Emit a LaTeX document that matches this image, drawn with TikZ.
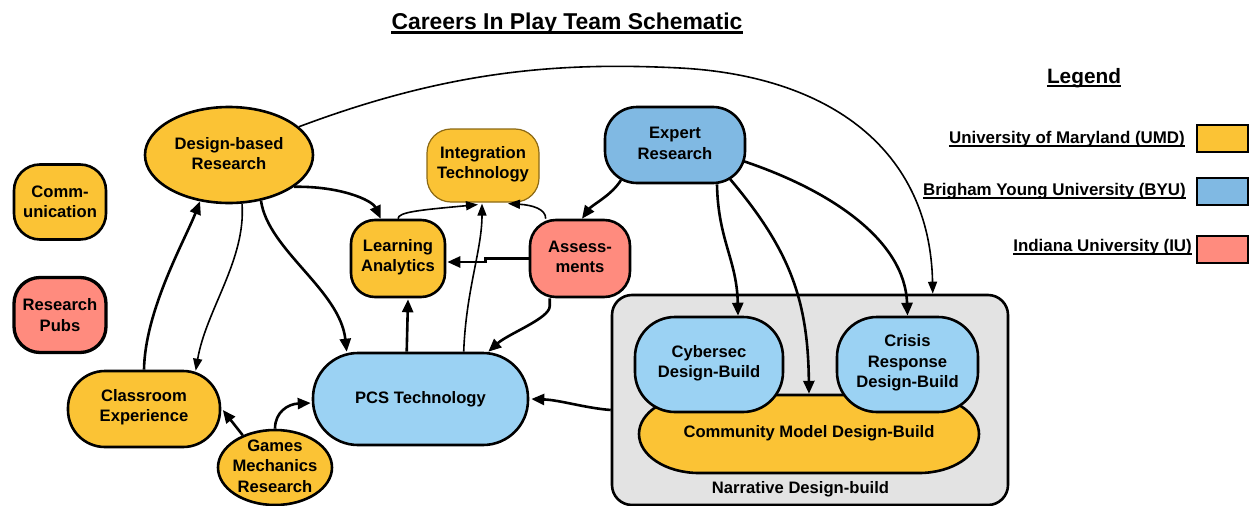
\documentclass[tikz,border=0pt]{standalone}
\usepackage{fontspec}
\setmainfont{Liberation Sans}
\usetikzlibrary{arrows.meta,shapes.geometric,calc}

\definecolor{umd}{RGB}{251,195,53}
\definecolor{byu}{RGB}{128,185,227}
\definecolor{byulight}{RGB}{155,210,243}
\definecolor{iu}{RGB}{255,139,126}
\definecolor{panel}{RGB}{227,227,227}
\definecolor{olive}{RGB}{140,105,20}

\newcommand{\cipfont}{\bfseries\fontsize{16.6}{20.3}\selectfont}
\newcommand{\keyfont}{\bfseries\fontsize{16.9}{20.3}\selectfont}

\begin{document}
\begin{tikzpicture}[x=1pt,y=-1pt,
  every node/.style={inner sep=0pt, align=center, font=\cipfont},
  unit/.style={draw, line width=2.6pt},
  umdbox/.style={unit, fill=umd},
  byubox/.style={unit, fill=byu},
  lightbox/.style={unit, fill=byulight},
  iubox/.style={unit, fill=iu},
  conn/.style={line width=2.6pt, -{Triangle[length=13pt,width=11pt]}},
  thinconn/.style={line width=1.6pt, -{Triangle[length=12pt,width=9pt]}},
  keybox/.style={draw, line width=2pt, minimum width=51, minimum height=27},
  uline/.style={line width=1.8pt}]

\useasboundingbox (0,0) rectangle (1251,506);

% heading
\node[font=\bfseries\fontsize{22.9}{26}\selectfont, anchor=base] (title) at (567,29) {Careers In Play Team Schematic};
\draw[line width=2.2pt] ($(title.base west)+(0,3.5)$) -- ($(title.base east)+(0,3.5)$);

% legend
\node[font=\bfseries\fontsize{20.8}{24}\selectfont, anchor=base] (legend) at (1084,83) {Legend};
\draw[line width=2pt] ($(legend.base west)+(0,3)$) -- ($(legend.base east)+(0,3)$);

\node[font=\keyfont, anchor=base east] (k-umd) at (1185,143) {University of Maryland (UMD)};
\node[font=\keyfont, anchor=base east] (k-byu) at (1186,195) {Brigham Young University (BYU)};
\node[font=\keyfont, anchor=base east] (k-iu) at (1192,251.5) {Indiana University (IU)};
\foreach \k in {k-umd,k-byu,k-iu}
  \draw[uline] ($(\k.base west)+(0,2.6)$) -- ($(\k.base east)+(0,2.6)$);

\node[keybox, fill=umd] (s-umd) at (1222.5,138.5) {};
\node[keybox, fill=byu] (s-byu) at (1222.5,191.5) {};
\node[keybox, fill=iu] (s-iu) at (1222.5,249) {};

% stand-alone units
\node[umdbox, rounded corners=26pt, minimum width=92, minimum height=75] (comm) at (60,202) {Comm-\\unication};
\node[iubox, line width=3.3pt, rounded corners=26pt, minimum width=92, minimum height=75] (pubs) at (60,315) {Research\\Pubs};

% research and technology nodes
\node[umdbox, ellipse, minimum width=168, minimum height=96] (dbr) at (229,155) {};
\node (dbr-t) at (229,153.5) {Design-based\\Research};
\node[draw=olive, line width=1.2pt, fill=umd, rounded corners=24pt, minimum width=112, minimum height=73] (integ) at (483,165.5) {};
\node (integ-t) at (483,164) {Integration\\Technology};
\node[umdbox, rounded corners=24pt, minimum width=94, minimum height=77] (la) at (398,258.5) {};
\node (la-t) at (398,257) {Learning\\Analytics};
\node[iubox, rounded corners=26pt, minimum width=100, minimum height=77] (assess) at (580,258.5) {};
\node (assess-t) at (580,257) {Assess-\\ments};
\node[byubox, rounded corners=32pt, minimum width=140, minimum height=76] (expert) at (675,145) {};
\node (expert-t) at (675,143.5) {Expert\\Research};
\node[lightbox, rounded corners=45pt, minimum width=215, minimum height=92] (pcs) at (420.5,399) {PCS Technology};
\node[umdbox, rounded corners=37pt, minimum width=152, minimum height=76] (class) at (144,409) {};
\node (class-t) at (144,407.5) {Classroom\\Experience};
\node[umdbox, ellipse, minimum width=114, minimum height=75] (games) at (275,467.5) {};
\node (games-t) at (275,466) {Games\\Mechanics\\Research};

% narrative design-build panel
\node[unit, fill=panel, rounded corners=20pt, minimum width=396, minimum height=210] (narr) at (810,400) {};
\node[anchor=base] (narr-t) at (800.5,493) {Narrative Design-build};

\draw[umdbox] (699,395) -- (919,395)
  .. controls (952,395) and (979,412.5) .. (979,434)
  .. controls (979,455.5) and (952,473) .. (919,473) -- (699,473)
  .. controls (666,473) and (639,455.5) .. (639,434)
  .. controls (639,412.5) and (666,395) .. (699,395) -- cycle;
\node[minimum width=340, minimum height=78] (cm) at (809,433) {Community Model Design-Build};

\node[lightbox, rounded corners=40pt, minimum width=148, minimum height=95] (cyber) at (709,364.5) {};
\node (cyber-t) at (709,363) {Cybersec\\Design-Build};
\node[lightbox, rounded corners=40pt, minimum width=141, minimum height=95] (crisis) at (907.5,364.5) {};
\node (crisis-t) at (907.5,363) {Crisis\\Response\\Design-Build};

% connectors
\draw[conn] (dbr.-26) .. controls (340,186) and (372,200) .. ($(la.north west)+(31,0)$);
\draw[conn] (dbr.-55) .. controls (268,250) and (340,290) .. ($(pcs.north west)+(35,0)$);
\draw[thinconn] (dbr.-75) .. controls (246,260) and (206,310) .. ($(class.north west)+(129,1)$);
\draw[conn] (class.north) .. controls (145,310) and (185,240) .. (dbr.-122);
\draw[conn] (games.135) -- ($(class.east)+(1.5,1)$);
\draw[conn] (games.north) .. controls (275,412) and (288,404) .. ($(pcs.west)+(-1,4)$);
\draw[conn] ($(pcs.north west)+(95,0)$) -- ($(la.south)+(10,1)$);
\draw[thinconn] ($(pcs.north west)+(152,0)$) .. controls (466,290) and (482,250) .. ($(integ.south)+(-1,1)$);
\draw[thinconn] (la.north) .. controls (398,212) and (420,210) .. ($(integ.south)+(-5,2)$);
\draw[conn] (assess.west) -- ++(-43,0) -- ++(0,3.5) -- ($(la.east)+(1,3.5)$);
\draw[thinconn] ($(assess.north west)+(17,0)$) .. controls (546,209) and (532,205) .. ($(integ.south)+(25,1)$);
\draw[conn] ($(assess.south west)+(21,0)$) -- ++(0,8) .. controls +(0,12) and +(20,-18) .. ($(pcs.north east)+(-41,0)$);
\draw[conn] ($(expert.center)+(-54,35)$) .. controls (612,195) and (592,205) .. ($(assess.north)+(2,0)$);
\draw[conn] ($(expert.south)+(42,0)$) .. controls (718,240) and (737,260) .. ($(cyber.north)+(29,0)$);
\draw[conn] ($(expert.center)+(55,34)$) .. controls (790,250) and (808,300) .. (cm.north);
\draw[conn] ($(expert.center)+(68,16)$) .. controls (830,190) and (905,240) .. (crisis.north);
\draw[thinconn] (dbr.22) .. controls (450,70) and (560,62) .. (680,68)
  .. controls (830,76) and (930,150) .. ($(narr.north west)!0.808!(narr.north east)$);
\draw[conn] ($(narr.west)+(0,10)$) .. controls (585,408) and (560,400) .. ($(pcs.east)+(2,0)$);

\end{tikzpicture}
\end{document}
